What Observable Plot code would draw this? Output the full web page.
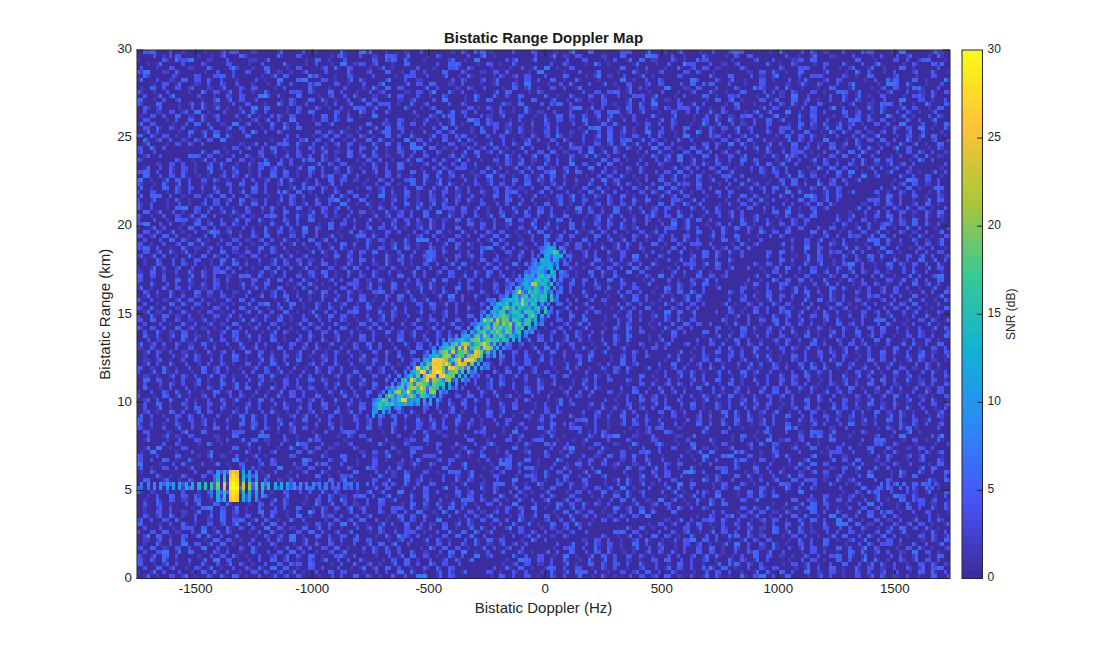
<!DOCTYPE html>
<html><head><meta charset="utf-8">
<script src="https://cdn.jsdelivr.net/npm/d3@7"></script>
<script src="https://cdn.jsdelivr.net/npm/@observablehq/plot@0.6"></script>
<style>
html,body{margin:0;padding:0;background:#fff;overflow:hidden}
#chart{position:relative;width:1108px;height:651px}
#chart svg{position:absolute;left:0;top:0;max-width:none;background:transparent}
</style></head><body><div id="chart"></div>
<script>
const title = "Bistatic Range Doppler Map";
const xLabel = "Bistatic Doppler (Hz)";
const yLabel = "Bistatic Range (km)";
const barLabel = "SNR (dB)";
const xTicks = [-1500,-1000,-500,0,500,1000,1500];
const yTicks = [0,5,10,15,20,25,30];
const xDomain = [-1752,1737];
const parula = ["#3a2a98","#4852f4","#2d87f7","#11b1d6","#37c897","#abc739","#fec338","#f9fb14"];
const nCols = 256, nRows = 132;

// background: each character is a pair of adjacent cells (dB estimates)
const pairs = {".":[.3,.3],"-":[1.8,.3],"_":[.3,1.8],"~":[2.5,2],a:[4,.3],b:[.3,4],c:[4.5,4],d:[6,1.5],e:[1.5,6],f:[6,5],g:[5,2.5],h:[2.5,5],i:[7.5,3],j:[3,7.5],k:[7,7],m:[9,4]};
const backgroundRows = [
".cf..a.-.._..hbc..~...e...a.-...d..ke..-..~.b...._.g.df_...a..c.._-.j..f....cc..e..-.h.._.b..hfa..._.d..b.g.~..a..gc.._.k..",
"..e~...b.-ac.._._.h..f-....d..c...._bd..a.~.fc.e.._.g....a.j.-.....b..e.~.c...~..f...kf..a.-..d.._.g.c.....a.-.e..~..b.._.",
"a.b.h.._.d.-...g.ick..~..a.._~.e....._.f.-.b....c.gf.d..-...h._.k....aj..e.._.b..c.._.a.e.f.~..g.-.dc..._...h..a..~c.f....",
"..f..-..c.a.hf..-._.e...a..g...c.._.b...d.._.a._.k.~c.h..-.f....a.ff.._.c.-.d.....a.g.._.i.-...e.._.b..mc..a.~.h....d.-.g..",
"_.c..d..a.j-.._.g..fe.b..-.c..~..i..bi..-.f.._.c...h.d.c.._.e.-...a._..cd.g.._.._.b.e.k.-.c.......f._.a..-.d.h.c.~...g....",
".g..cc..a._.h..e._..f.-...a.gk..~.d..._.b..a.c..j.~.-.e..b...d..h..f._.c.a..f..g..~.c.a.._.k...-.b..e.._..d.-.h...c.g._...",
"..~.c.d.-.f...e.._.i.a._.a..h..d._.g...b-..c..cf.a..._.e.f...id..-.c...a.._.cc.b..e._.d...-g.h.c..a..f.._.j.~.b..e.-...c...",
".d..f..b.~.j...a.cc...g.-.f...h.._..c..e..a.~.f.c.d.a._..b.-.k..fk..c.-.e.d...j..a.~....b.g..h.e.._.c.a.f.-.d.._...k.-.a.g.",
"...ka..g.e._..c.-.b.-d..h.c..._.a.df..f.-..i.._.c.e..~.a.g.b..-._.d.a..gf..c.-.b..j...e.c.f..~.a..-.h..g.k.._.b.d..a.e.-.c.",
".h.c..b.f.df..a._..c...~.e-.g..a.j..._.kf.d..-.b._.f.a.c.h..~.e..g.c.._.a...d..-.b.._.i.f.c...e.a..~.g.b.._.f.h.-.c.a.e....",
"._.e.a-..k..~.c..a..g..ig.b.d._..-.f..e.._.h.c.-fd..a.g._.b...-.i.c.e.a.-.d...cc.g..f.a._.b.h...~.c.j..d.a.-..e.f.._.g.....",
".a.c.cf.e.._.b..-.h..d._..f..b.a~.g..c.-.ff.e.._.h..a.~.d.c.a.e.j...b..-.g.c..km.a..f.._.h.b.d..~.e.c..a.-.g.._.i..d.a.f...",
"d.-.g..c.d.b..cc.e.._.a..f.-.ch.._.d.~.k.b...a.g.e.-.c.._.cg.d..f._.a.h...-.j.e.c.b..._.g..f.d.-.a.e.c...~.h..b.k.._.d.f...",
".a.f..h._.g.-.c...e.b.d.~.a..._.f.j.-..c.e..f.h.-.a.d.g._.b..k..c.-.ag..f.._.e.d.~..a.c..-.i.g.b.._.a.e..f.cc.-.d.h...a.g...",
"..e~.f..b.gf.a.._.c.-.h.d.k...c.e.a.._.f..-.b.g.d.a.c.._.e..~.ff.a.-.i..c.g.h.._.b.d.e.-.a.k.f.._.c..g.-.a.fc.e.b..d._.h....",
".c_.g.a.-.d..b...hk.e.a._.f.c.~.g.cc.d.-.a.h...e.c._.b.f..j.a.-.d.g..e.c._.f..a.~.c.h.k.-.b..e.d.a.._.g.f...c.-.i.a.d...b...",
"f.e.c.a._.g.-.d.~.b..a._.c.ff.h.e..-.c.b.a.d.g.._.j.e..k.-.c.a..f.h._.d.b.g.-.e.._.c.a.f.~.d.h..b.e.-.ag.c.._.f.d.a.-.k.....",
".-.g.df.b..a~.e..c._.a.f.c.g.e.h.-.a..d..e.._.b.g.~.cf.a.j.-.d.f.._.h.c.a..i.e.-.b.g..c.._.a.f.d.b...-.h.e.a.k.._.c.g.f.....",
"a.c._.h.-.e..kc.g.._.a.-.d.c.~.f._.d.b.a.-.e.g.._.c.d.i.-.a.f.e..a.h.b._.ff.g.c.-.d.a.j..e.c.._.b.f.a.~.k.h.-.d.g.a..c.e....",
".f.b~.d.c.a.b.e.-.f.gc.h._.a.c.-.b.e..f.d.._.c.a.g..-.i.e.b.~.a.c.._.f.g.d.e.h.-.c.a.k..b._.f.c.d.g.a.-.e..h.c.._.a.i.f.....",
"..-.a.e.f.c.._.b.k.a._.d.c.~.g.-.h.a.._.fk.c.e.-.d.b.a.f._.g.c.j.h..a.cc.d.~.e.f.a.b.._.g.c.k.-.d.e.a.._.f.h.c.-.b.i.a.g....",
".c.g.d._.e.ef.b.-.a.c.h.._.f.a.d.g.-.c.a.~.e.b.f.h.-.k.c._.a.m.d.-.e.b..g.c.a.f._.i.d.c.~.h.a.e.b.._.f.g.c.-.a.e.k.d..f.....",
"b.a._.h.c.~.g.-.f.a.d..e.c.df.-.a.c.._.g.h.i.-.a.e.f.~.c.b.d._.k.-.gc.a.h.e.._.f.c.d.-.a.b.g.j.._.c.e.f.-.d.h.a.~.g.c.k.....",
"..-.g.bj.c.e._.a.f.d.-.k.c.a.f.e.g.._.b.-.h.a.c.d..a.~.f.cf.e.g.-.d.a.._.c.h.f.b.-.e.g.a.k.._.d.c.f.a.i.-.h.b.e.._.c.g.a....",
".~.e.a.cf.d.b._.h.c.-.g.f.a.k.d.-.c.~.a.e.b.g.f.._.a.d.-.c.h.j.e.b.f.a.._.c.g.k.d.-.e.a.f.b.~.c.h.g.._.a.d.e.-.f.c.i.a.......",
"._.c.h.b.f.-.a.g.d._.a.c.e.-.d.kk.f.~.a.g.h.c.-.e.a.b._.cc.f.-.d.g.a.k.c.~.f.e.a.-.b.h.d._.c.g.a.f.-.e.d.a.j.c.._.g.h.b.......",
"d.f.-.a..c.e._.g.b.h.~.f.a.d.-.c.b.a.g._.e.f.h.d.-.a.c.f.~.b.k.e.g.._.a.d.-.c.f.a.h.e.._.g.b.cc.-.a.d.f.i.e.._.c.g.a.~.h.b...",
".ff.c.-.a.g.h._.e.c.a.d.-.f.e.c.~.b.a.c.-.h.g.e.._.d.a.j.f.-.c.e.d.a.b.._.g.h.k.-.f.a.c.e.._.d.ig.a.-.c.f.e.b.._.a.h.d.~.g...",
"..g._.e.a.f.c.-.d.b.a.df.g.h.._.c.a.-.e.f.b.d.j.a.-.c.g.e.~.h.a.d.._.f.c.-.a.b.g.k.e.-.d.a.f.c.._.h.a.e.g.-.b.d.f.c.._.i.a....",
".~.c.a.-.h.d._.b.ck.f.a.-.e.g.c.._.d.a.f.-.h.e.b.c.a.._.g.f.-.d.a.k.c.e.f.-.b.a.g.._.h.d.c.-.a.e.f.j.b.._.c.a.g.d.~.e.h.a....",
"a.e.b.g.c.-.f.a.d._.c.h.-.e.k.a.g.d.-.c.a.f.._.b.g.cc.-.d.a.e.h.f.~.c.a.k.b.-.g.d.._.e.h.a.c.f.-.b.g.d.a.._.i.f.c.-.e.a.h.b..",
".._.cf.a.d.g.-.e.b.h._.a.c.f.-.g.a.~.d.b.e.c.-.f.a.j.g.._.c.d.-.h.a.ck.e.f._.g.a.-.d.b.c.f.a.-.h.e.._.g.c.a.d.~.b.f.k.-.a.e..",
"g.-.e.a.f.b.c.d._.-.h.g.d.a.f.c.-.a.gf.e.b.._.c.a.-.f.d.h.a.~.k.c.-.g.e.f.a.._.b.c.d.-.a.h.e.g.f.-.cd.a.._.b.e.f.c.-.g.a.k.h..",
".d.a.c._.k.-.e.f.a.c.g.-.b.a.h.e.d._.a.f.c.~.-.g.a.cf.d.e.-.b.a.h._.f.c.g.d.-.a.e.k.c.._.a.f.h.-.g.e.b.a.d.._.c.f.-.a.h.g.e...",
"..-.kf.c.a.g._.d.e.a.~.-.c.f.b.a.h.-.d.g.e.a.._.b.c.-.f.a.j.d.-.g.e.c.a.f._.h.a.-.d.b.e.g.-.a.c.gc.f.._.a.d.h.-.e.f.a.i.c.b.....",
"._.h.c.~.a.e.-.f.g.c.a.d.b._.f.a.-.e.df.g.a.._.c.h.-.a.f.b.e.d.a.-.c.g.~.a.f.h._.c.e.-.a.g.d.k.f.-.c.a.b._.e.h.f.a.-.g.d.c.....",
".a.d.f.-.ef.a.c._.g.a.-.h.b.e.c.a.di.f.-.a.g.c.._.e.a.f.-.d.c.~.a.g.h.cf.-.e.a.b._.f.d.a.-.c.g.h.e.-.a.f.c.._.b.a.k.d.-.h.g.e...",
"c.-.g.a._.d.e.ff.a.-.c.h.f.a.g.._.b.c.a.-.e.d.f.a.k.~.c.-.g.a.h.b._.f.d.a.e.-.c.j.a.g.d.f.-.a.e.h.c.._.b.a.f.g.-.d.a.km.e.c....",
"._.f.a.c.-.g.a.e._.d.-.b.c.h.f.~.a.e.g.-.d.ck.a.f.._.h.a.-.c.e.g.d.a.-.f.b.a._.h.e.c.-.g.a.d.f.-.cg.e.a.._.b.h.d.a.-.f.c.e.a...",
".cc.d.a.-.e.f.g.a._.b.-.h.c.a.d.f.a.-.g.e.c.a.k._.d.-.a.f.h.e.g.a.-.c.b.a.d._.f.e.-.a.h.g.c.a.-.f.d.i.e.._.a.c.g.-.b.a.h.f.d...",
".~.g.c.a.h.f.-.d.a._.fk.c.e.a.-.g.b.d.a.f.-.c.e.a.._.g.h.-.d.a.cc.f.e.-.a.g.b.c.a._.k.d.-.f.e.a.h.c.-.g.a.d.._.f.b.a.e.-.c.h...",
".e.a._.g.d.c.-.a.f.e.b.-.g.a.h.d.c._.a.f.-.e.g.a.b.c.-.d.h.a.f.k.~.c.a.-.g.e.d.f.a.-.h.c.a.f._.e.g.a.d.-.b.c.h.a.._.f.k.-.e...",
"..-.b.e.a.c.~.g.f.d.-.a.c.e.f.a._.h.-.cf.a.d.g.b.~.a.-.e.h.c.a.f.-.d.a.g.e.j.-.c.a.d.f.._.h.e.a.-.gd.c.f.a.-.b.e.a.h.._.g.c.f...",
"a.e._.c.f.a.-.d.g.a.b._.fc.h.-.a.e.c.d.-.g.a.f.._.b.a.e.-.h.c.a.d.~.f.g.-.a.k.c.e._.f.a.-.h.d.b.a.g.-.c.e.f.a.._.d.h.a.-.g.c...",
".d.a.c.-.e.g.f.a._.ck.b.a.-.f.h.c.g.a.-.d.e.a.._.f.c.-.a.b.g.e.~.d.a.-.f.c.a.h._.i.e.-.f.a.g.c.d.-.a.b.k.e.._.h.a.f.-.d.c.g.a..",
"._.g.-.a.hg.c.f.d.a.-.e.a._.f.c.a.~.b.-.d.e.a.k.g.f.-.a.j.c.e.-.h.d.a.f._.g.a.-.c.e.d.a.f.-.b.a.g.h.._.cc.e.a.-.d.f.g.a.-.h.c..",
"a.c.-.e.a.f.-.d.a._.b.c.g.e.-.a.jf.h.-.a.d.c.~.f.a.._.e.g.-.c.a.b.h.f.-.d.a.g.c._.e.f.-.a.d.h.g.a.-.c.e.a.._.f.b.d.-.a.i.c.f..",
".f.d._.a.c.e.-.g.~.a.e.c.h.f.a.-.b.d._.a.g.f.-.c.a.a.e.-.ef.d.a.._.h.b.-.c.a.g.f.d.-.a.k.e.c._.f.a.-.g.d.h.a.c.-.e.a.f.._.b.g..",
"..-.h.a.gc.e.f.a._.d.-.c.a.b.f.g.e.-.a.c.~.h.a.d.-.f.e.a.._.g.c.-.d.kk.a.f.-.b.e.g.._.a.d.c.-.f.a.h.e.a.-.g.c.d.a._.f.e.-.a...",
".a.c.e._.a.-.ff.d.a.g.~.e.c.-.a.h.f.d._.c.a.-.g.b.e.a.c.-.f.a.d._.h.g.-.a.e.c.d.-.f.a.g.b.._.h.c.a.-.e.d.a.f.-.g.cc.a.._.d.h...",
"e.-.c.a.g.d.._.f.a.-.b.c.e.gf.a.-.d.~.h.a.c.-.f.g.a.._.b.e.d.-.a.c.j.f.-.g.a.d._.ck.e.a.-.h.f.a.c.-.d.e.a.g.._.f.a.-.b.h.c.d...",
"._.a.k.c.-.e.d.a.f.b._.g.a.-.c.h.d.e.-.a.f.~.c.a.g._.-.e.d.a.h.c.f.-.a.b.ef.g._.a.d.-.c.e.a.f.g.-.h.a.d.c.._.a.b.e.-.f.g.d.a...",
"c.f.-.a.d.gc.e.a._.f.-.b.a.c.h.e.a.-.d.f.g.a.~.c.-.e.a.h.._.f.g.a.-.d.e.a.cf.-.c.h.a.b._.g.a.-.f.d.e.a.-.c.k.a.g.._.h.f.d.-.a..",
".d.a._.e.c.-.g.a.f.d.-.c.e.a.h.-.g.b.a.c._.f.d.-.a.e.g.c.~.a.-.h.f.a.d.c.-.ei.b.a._.f.c.-.a.g.e.d.a.-.f.h.a.c.._.b.e.g.-.a.d...",
"..-.f.a.e.c._.a.g.h.-.d.a.f.e.a.-.c.b.g.a._.d.f.a.-.h.c.e.a.f.-.g.a.~.d.b.-.c.a.e.f._.g.a.k.d.-.c.f.a.e.-.g.h.a.d.._.cc.e.f.-..",
".g.c.a.-.d.e._.ck.a.-.f.g.c.a.d.-.e.a.h.b._.c.g.a.-.f.d.a.e.-.c.h.f.a.~.g.-.d.a.c.e._.b.f.a.-.k.e.a.d.-.h.c.a.f.g.._.a.d.-.c.e..",
"a.-.e.f.a.c._.g.d.a.-.h.b.a.e.c.~.f.-.a.d.g.cf.a.-.h.e.a._.c.f.-.d.a.g.b.-.e.a.h.c._.d.f.a.-.c.e.a.g.-.f.d.a.k.c.._.h.a.e.-.b...",
".._.c.a.-.f.h.a.e.g.c.-.b.d.a._.f.c.a.-.e.g.a.~.ff.d.-.a.c.h.e.-.a.g.d._.f.b.a.-.c.e.a.d.h.-.g.f.a.c.-.e.a.d.._.g.k.a.-.f.c.h...",
".e.d.a._.c.-.g.f.a.b.d.-.e.a.hk.c.-.a.f.d._.g.a.-.c.e.f.a.d.-.h.a.c.~.g.-.b.a.e.f._.c.a.-.d.g.a.h.-.e.c.a.f.d.._.a.b.-.g.e.a...",
".a.-.i.c.f.a.d._.g.a.-.c.e.h.a.f.-.d.b.a.~.g.c.-.e.a.f.._.h.d.-.a.cc.e.-.f.a.g.d._.b.a.-.c.h.e.a.-.g.f.a.d.-.c.a.e.._.g.h.f.-..",
"._.f.a.cd.-.b.e.a._.c.g.-.a.f.h.a.e.-.d.c.a.~.g.-.b.e.a.f._.d.a.-.c.g.h.a.f.-.e.d.a.k.c.-.g.a._.f.b.e.a.-.h.d.a.c.._.f.g.-.a.e..",
".c.-.a.g.e.a.-.f.d._.a.h.c.a.-.e.b.g.a.d.-.f.c.a.~.e._.h.a.-.d.f.a.g.-.cf.a.e.b._.d.a.-.g.h.c.a.-.f.e.a.d.._.b.c.a.-.g.f.i.a...",
"g.a._.c.-.e.f.a.d.-.g.a.h.c._.b.a.f.e.-.d.a.g.~.c.-.a.e.h.f.a.-.d.b.a.c._.g.f.a.-.e.k.a.d.-.c.h.a.f.g.._.e.a.-.d.c.a.b.-.h.f...",
".-.h.a.f.c.a.e._.d.a.-.gc.b.a.f.-.e.d.a.~.h.c.a.-.g.f.a.._.e.b.-.a.d.c.f.-.a.g.h.e._.c.a.-.f.d.a.g.-.e.b.a.h.c.._.f.a.-.d.e.g...",
".a.c._.e.a.-.d.f.g.a.c.-.h.a.e.b._.g.a.-.f.d.c.a.~.-.e.ck.a.f.-.g.a.h._.d.b.a.-.c.f.e.a.-.g.d.a.h.c.-.f.a.e.._.b.g.a.-.d.h.c.a..",
"e.-.g.a.d.c.b.a._.f.-.h.a.e.c.f.-.a.g.d.a.~.b.-.c.a.f.e._.h.a.-.d.g.a.c.f.-.e.a.b.h._.a.d.-.g.f.a.cc.-.e.a.h.._.d.a.f.-.g.b.a...",
".d._.c.a.f.-.e.a.g.h.-.a.b.c.d.a.-.f.e.~.a.g._.c.-.a.h.d.a.f.-.e.b.a.cf.-.d.g.a.e._.h.a.-.c.f.a.g.-.e.d.a.b.c.._.h.a.-.k.f.e...",
"a.c.-.f.a.gf.e._.d.a.-.c.h.a.b.e.-.g.a.d.f.~.a.-.c.e.a._.g.h.-.a.d.f.c.-.a.e.g.b._.a.h.-.f.d.a.c.-.g.e.a.f.d.._.a.c.-.h.g.a.b...",
"._.e.a.-.d.h.a.c.f.-.a.g.b.e._.a.d.-.c.f.a.g.~.h.-.a.e.d.a.f.-.c.b.a.g._.e.h.a.-.d.c.a.f.-.g.e.a.h.d.-.c.a.f.._.b.e.a.-.g.d.c...",
".g.-.a.c.f.a.e.-.h.d._.a.ff.a.-.c.g.e.a.b.-.d.a.h.~.f._.a.c.-.e.g.a.d.-.f.c.a.b.h._.a.e.-.g.a.d.f.-.c.a.h.e.a.-.b.g.._.a.d.f.c.",
"a._.d.a.-.e.c.g.a.-.f.h.a.b.d._.a.e.-.g.c.a.f.h.~.-.d.a.e.b.a.-.g.c.a.f._.h.d.a.-.c.e.a.f.-.g.b.a.d.c.-.h.a.e.._.g.f.a.-.d.c.a..",
".c.-.f.a.h.e.a._.g.-.d.a.c.f.b.-.a.e.g.a.d.~.c.-.a.h.f.a._.e.g.-.a.c.d.b.-.a.f.h.e._.g.a.c.-.d.a.f.e.-.h.a.g.b.a.-.d.c.._.f.a..",
"f.a._.c.-.g.a.d.e.-.h.a.f.b.c._.a.g.-.e.d.a.h.f.~.-.a.c.e.a.g.-.b.d.a.h._.f.a.-.c.e.a.g.d.-.f.a.b.h.-.c.a.e.g.a.-.d.f.._.a.c...",
".-.e.a.g.b.a.c._.f.-.d.a.h.e.a.-.c.g.a.f.b.~.-.d.a.e.c.h._.a.f.-.g.a.d.e.-.c.a.b.f._.h.a.-.g.d.a.c.-.e.f.a.h.b.-.a.g.d.._.e.a..",
".a.d._.f.a.-.h.c.a.e.-.g.b.a.f.d._.a.c.-.e.h.a.g.~.f.-.a.d.b.a.-.c.e.a.h._.g.f.a.-.d.c.a.b.-.e.a.g.f.h.-.a.d.c.._.e.a.-.g.b.h..",
"h.-.c.a.e.g.a._.d.-.f.a.b.c.h.-.a.e.d.a.f.~.g.-.a.c.b.a._.h.e.-.f.a.g.d.-.a.c.e.a.b._.f.h.a.-.d.g.a.c.-.e.f.a.b.d.-.a.h.._.c.a..",
"._.a.b.d.-.f.a.c.g.e.-.a.h.d.a._.f.b.-.c.a.e.g.a.~.-.d.h.a.f.c.-.a.e.b._.g.a.-.c.d.a.f.h.-.e.a.g.b.-.c.a.d.f.a.-.h.e.._.g.a...",
".e.-.a.f.h.a.d._.b.-.a.c.g.e.-.a.f.d.a.h.~.c.-.a.b.e.g._.a.f.-.d.a.c.h.-.g.a.b.e._.a.d.-.f.c.a.h.-.g.e.a.d.b.-.a.c.f.._.h.a.g..",
"b.a._.g.-.c.a.e.d.-.f.a.h.b.g._.a.c.-.d.f.a.e.~.h.-.a.g.b.a.c.-.e.d.a.f._.h.a.-.g.c.a.b.e.-.d.a.f.h.-.g.a.c.e.a.-.b.d.._.f.a...",
".-.d.a.c.f.a.h._.e.-.g.a.b.d.a.-.f.c.a.h.g.~.-.e.a.d.b._.a.g.-.c.a.f.e.-.h.a.d.b._.a.g.-.c.e.a.f.-.h.d.a.g.c.-.a.b.e.._.a.f.h..",
".a.f._.h.a.-.b.e.a.g.-.c.d.a.f.h._.a.e.-.b.g.a.c.~.d.-.a.f.h.a.-.e.g.a.b._.d.c.a.-.f.h.a.e.-.g.a.b.d.c.-.a.f.h.._.e.a.-.g.c.d..",
"e.-.h.a.b.d.a._.g.-.c.a.e.f.d.-.a.h.b.a.c.~.g.-.a.e.d.a._.f.h.-.b.a.c.e.-.a.g.d.a.f._.h.b.a.-.c.g.a.e.-.d.f.a.h.c.-.a.b.._.g.a..",
"._.a.c.g.-.e.a.f.h.b.-.a.d.g.a._.c.e.-.f.a.b.d.a.~.-.h.g.a.e.c.-.a.f.d._.b.a.-.h.g.a.c.e.-.f.a.d.b.-.h.a.g.e.a.-.c.f.._.d.a...",
".f.-.a.e.d.a.b._.h.-.a.g.c.f.-.a.d.e.a.b.~.h.-.a.g.f.c._.a.e.-.d.a.b.h.-.c.a.f.g._.a.e.-.d.b.a.h.-.c.f.a.e.g.-.a.d.b.._.h.a.c..",
"g.a._.b.-.h.a.f.e.-.d.a.c.g.b._.a.h.-.e.f.a.d.~.c.-.a.b.g.a.h.-.f.e.a.d._.c.a.-.b.h.a.g.f.-.e.a.d.c.-.b.a.h.f.a.-.g.e.._.d.a...",
".-.c.a.h.g.a.e._.f.-.b.a.d.c.a.-.g.e.a.f.b.~.-.h.a.c.d._.a.b.-.g.a.e.f.-.d.a.h.c._.a.b.-.g.f.a.e.-.d.c.a.b.h.-.a.g.f.._.a.e.d..",
".a.g._.d.a.-.f.b.a.h.-.e.c.a.g.d._.a.f.-.h.b.a.e.~.c.-.a.g.d.a.-.f.h.a.b._.e.c.a.-.g.d.a.f.-.h.a.b.e.c.-.a.g.d.._.f.a.-.h.b.e..",
"c.-.f.a.e.h.a._.b.-.g.a.d.f.c.-.a.e.h.a.b.~.g.-.a.d.c.a._.f.e.-.h.a.b.g.-.a.d.c.a.f._.e.h.a.-.b.g.a.d.-.c.f.a.e.h.-.a.b.._.g.a..",
"._.a.d.h.-.b.a.g.e.f.-.a.c.h.a._.d.b.-.g.a.e.f.a.~.-.c.h.a.d.b.-.a.g.e._.f.a.-.c.h.a.d.b.-.g.a.e.f.-.c.a.h.d.a.-.b.g.._.e.a...",
".b.-.a.f.c.a.g._.e.-.a.h.d.b.-.a.f.g.a.c.~.e.-.a.h.b.d._.a.f.-.g.a.c.e.-.h.a.b.d._.a.f.-.g.c.a.e.-.h.b.a.d.f.-.a.g.c.._.a.e.h..",
"h.a._.c.-.e.a.b.f.-.g.a.d.h.c._.a.e.-.b.g.a.f.~.d.-.a.c.h.a.e.-.b.f.a.g._.d.a.-.c.e.a.h.b.-.f.a.g.d.-.c.a.e.b.a.-.h.f.._.g.a...",
".-.d.a.e.h.a.f._.c.-.g.a.b.d.a.-.h.f.a.e.c.~.-.g.a.d.b._.a.h.-.f.a.e.c.-.g.a.b.d._.a.h.-.f.e.a.c.-.g.d.a.b.h.-.a.f.e.._.a.c.g..",
".a.h._.e.a.-.c.g.a.b.-.f.d.a.h.e._.a.c.-.g.b.a.f.~.d.-.a.h.e.a.-.c.g.a.b._.f.d.a.-.h.e.a.c.-.g.a.b.f.d.-.a.h.e.._.c.a.-.g.b.f..",
"d.-.g.a.f.b.a._.c.-.h.a.e.g.d.-.a.f.b.a.c.~.h.-.a.e.d.a._.g.f.-.b.a.c.h.-.a.e.d.a.g._.f.b.a.-.c.h.a.e.-.d.g.a.f.b.-.a.c.._.h.a..",
".cf.a.-.e.d.g.a._.b.h.-.a.f.c.e.a.-.d.g.b.a.~.h.-.f.a.c.e._.d.a.-.g.b.h.a.-.f.c.a.e.d._.a.g.-.b.h.a.f.-.c.e.a.d.g.-.b.a.h.._.f.a",
"g._.a.-.h.c.a.e.b.-.f.a.d.g._.h.a.c.-.e.a.b.f.~.a.-.d.g.a.h.c.-.a.e.b._.f.a.-.d.g.a.h.c.-.e.a.b.f.-.d.a.g.h.c.-.a.e.._.b.a.f.d."
];

// target streak, transcribed per cell (base-36 dB; "." leaves background)
const targetFirstRow = 48;
const targetStart = [128,128,127,126,125,124,123,122,120,119,118,117,116,114,112,111,110,109,108,106,105,104,103,98,96,94,93,91,90,88,87,85,84,82,81,80,78,77,76,75,74,74,74,74];
const targetRows = [
"7a.7","8bca.7","7acdjf.8","5.bd5ecd.6","7.dbc4da.5","6a5bcdb.8.","5.7bd9cd.b","6.a8db6.eb.8",
"6.a9c5dgbf9e.6","8.5cb7egcfb.d.7","7.4ad8mmcfd5f.6","6.ce4bd7gc5fd.9.","7.9dob5hcge8f.9.6","6.8.cf6dg5hdbfe.g.7",
"7.5bdfcg8mdecf9gd.f.6","7.cebf4dgemf7he.9.7","8.dc5gjbg6fcbe5dg.f.6","7.bd9gh4bfgd6hgf8e.g.5","7.c5fdhjg7dcfg4fjd.b.8",
"6.8mgj6mbji5hgd5fh.d.6","6.bcdf5ij8lhm5gj7hg.d.8","8.cg4fi7jfkdhj4gdh.d.7","7.b5egj8hfkg9jh6fg.b.a",
"5.7.9cd4gi8lf4gdjg6fd.c.7","6.a5cdfb7ijk9fjhgh8fe.d.c","7.9c5gi8lmk8fhkpi5g.b.8","7.8dfhj5n9p6gjk8mlj.d.8",
"7.c5gjl9n7hilb6pnj5h.b.9","6.bdf8jml4fjh6jlomi.9.b.7","6.bd7qqqnk9hmp5pqpj.a","7.c5gippqmqk5jpnm4j.d.8",
"6.bpdhk6qqpj5qplhj7j.d.b.7","7.9dhro5hqtrk7hjl5h.f.8","8.5cf7i2jppp4prljj.f.b.6","7.df5pj9gkq6ljg7jl.d.c.7",
"8.5g9hj7lkig4jgfg.d.a","7.c6gh5jlmfpj6ihg.d.c.6","8.d7jm9gqe5gji4kl.b.7","7.djg7fe8hkf5hgd.b.8",
"8cjg5e9gpp7b9d.b.c.a","9dgdhfg9cad8b.a.9.b.6","7bgc9a.7a","a9.b.7","a.7"
];

// direct-path return and its sidelobes
const directRowIndex = [105,106,107,108,108,108,109,109,110,111,112];
const directStart = [25,25,25,0,72,234,0,234,23,23,25];
const directRows = [
"a.c.oqo.b.9.7","c.e.psp.d.b.9","d.g.rtr.f.c.a",
".7.8.8.9.a.a.b.c.d.e.g.g.k.p.sus.o.k.i.g.d.d.c.b.a.9.8.8.7.7.6.6.6.7.6","6.5...5.5","6.5..7.6...5.6.6.5",
".6.7.8.9.9.a.b.c.c.d.f.h.j.o.tut.n.l.h.f.e.c.c.a.a.8.8.7.6.7.5.6.6.6.5","5.6...6.5.6...6.5",
"7.d.g.rtr.f.d.c.a","6.d.f.qsq.e.c.b.9","c.e.prp.c.a.8"
];

const toValue = ch => parseInt(ch, 36);
const grid = new Float64Array(nCols * nRows);
const bg = backgroundRows.join("");
for (let r = 0; r < nRows; r++) for (let c = 0; c < nCols; c++) {
  const ch = bg[(r * (nCols / 2) + (c >> 1)) % bg.length];
  grid[r * nCols + c] = (pairs[ch] || pairs["."])[c & 1];
}
function overlay(row, start, str) {
  [...str].forEach((ch, i) => { if (ch !== ".") grid[row * nCols + start + i] = toValue(ch); });
}
targetRows.forEach((s, i) => overlay(targetFirstRow + i, targetStart[i], s));
directRows.forEach((s, i) => overlay(directRowIndex[i], directStart[i], s));

const color = {type: "linear", domain: [0, 30], interpolate: d3.piecewise(d3.interpolateRgb, parula)};
const font = "'Liberation Sans', Arial, sans-serif";
const ink = "#262626";
const xTick = 30, yTick = 0.4;

const main = Plot.plot({
  width: 1108, height: 651,
  marginLeft: 136.5, marginRight: 158.5, marginTop: 49.5, marginBottom: 73,
  style: {fontFamily: font, color: ink, background: "transparent"},
  x: {domain: xDomain, axis: null},
  y: {domain: [0, 30], axis: null},
  color,
  marks: [
    Plot.raster(Array.from(grid), {width: nCols, height: nRows, x1: xDomain[0], x2: xDomain[1], y1: 30, y2: 0, imageRendering: "pixelated"}),
    Plot.ruleX(xTicks, {y1: 0, y2: yTick, stroke: ink}),
    Plot.ruleX(xTicks, {y1: 30, y2: 30 - yTick, stroke: ink}),
    Plot.ruleY(yTicks, {x1: xDomain[0], x2: xDomain[0] + xTick, stroke: ink}),
    Plot.ruleY(yTicks, {x1: xDomain[1], x2: xDomain[1] - xTick, stroke: ink}),
    Plot.frame({stroke: ink, strokeWidth: 1}),
    Plot.axisX(xTicks, {anchor: "bottom", tickSize: 0, tickPadding: 5, fontSize: 13.3, label: null, tickFormat: d => String(d), fill: ink}),
    Plot.axisY(yTicks, {anchor: "left", tickSize: 0, tickPadding: 5, fontSize: 13.3, label: null, tickFormat: d => String(d), fill: ink, dy: -1}),
    Plot.text([title], {frameAnchor: "top", dy: -12, fontSize: 15, fontWeight: "bold", fill: "#1a1a1a", lineAnchor: "middle"}),
    Plot.text([xLabel], {frameAnchor: "bottom", dy: 30, fontSize: 15, fill: ink, lineAnchor: "middle"}),
    Plot.text([yLabel], {frameAnchor: "left", dx: -32, rotate: -90, fontSize: 15, fill: ink, textAnchor: "middle"})
  ]
});

const barLevels = d3.range(64).map(i => 30 * (1 - (i + 0.5) / 64));
const bar = Plot.plot({
  width: 1108, height: 651,
  marginLeft: 961.5, marginRight: 126, marginTop: 49.5, marginBottom: 73,
  style: {fontFamily: font, color: ink, background: "transparent"},
  x: {domain: [0, 1], axis: null},
  y: {domain: [0, 30], axis: null},
  color,
  marks: [
    Plot.raster(barLevels, {width: 1, height: 64, x1: 0, x2: 1, y1: 30, y2: 0, imageRendering: "pixelated"}),
    Plot.ruleY(yTicks.slice(1, -1), {x1: 1, x2: 0.76, stroke: ink}),
    Plot.frame({stroke: ink, strokeWidth: 1}),
    Plot.axisY(yTicks, {anchor: "right", tickSize: 0, tickPadding: 5, fontSize: 12, label: null, tickFormat: d => String(d), fill: ink, dy: -1}),
    Plot.text([barLabel], {frameAnchor: "right", dx: 29, rotate: -90, fontSize: 12, fill: ink, textAnchor: "middle"})
  ]
});

const host = document.getElementById("chart");
host.append(main, bar);
</script></body></html>
